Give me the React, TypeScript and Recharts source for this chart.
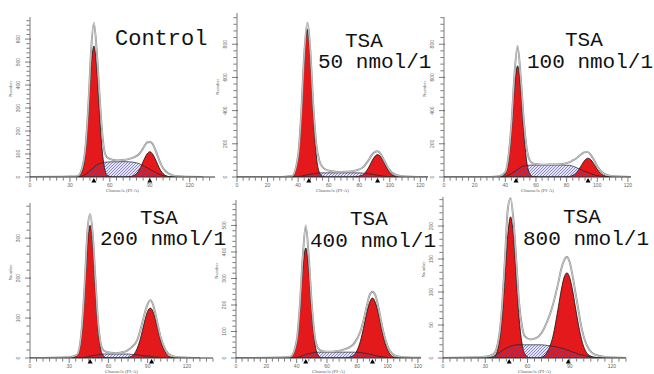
import React from 'react';
import { ComposedChart, Area, Line, XAxis, YAxis, ReferenceDot } from 'recharts';

// channel grid shared by all six histograms
const CH = [0, 30, 36, 40, 42, 44, 46, 48, 50, 52, 54, 56, 58, 62, 66, 70, 74, 78, 82, 84, 86, 88, 90, 92, 94, 96, 98, 100, 104, 108, 114, 130];

// Control
const ctrlRaw = [0, 2, 5, 60, 150, 330, 560, 670, 560, 380, 210, 110, 85, 75, 72, 74, 78, 85, 100, 115, 135, 150, 152, 145, 120, 90, 60, 38, 15, 6, 2, 0];
const ctrlG1 = [0, 0, 2, 40, 130, 300, 485, 570, 485, 300, 130, 40, 8, 0, 0, 0, 0, 0, 0, 0, 0, 0, 0, 0, 0, 0, 0, 0, 0, 0, 0, 0];
const ctrlG2 = [0, 0, 0, 0, 0, 0, 0, 0, 0, 0, 0, 0, 0, 0, 0, 0, 1, 6, 30, 54, 80, 101, 110, 101, 80, 54, 30, 15, 2, 0, 0, 0];
const ctrlS = [0, 0, 0, 5, 12, 22, 32, 42, 52, 58, 62, 64, 65, 66, 66, 67, 66, 64, 58, 52, 46, 40, 33, 27, 21, 15, 10, 6, 2, 0, 0, 0];
const ctrlMarks = [48, 90];

// TSA 50 nmol/l
const t50Raw = [0, 1, 6, 130, 380, 740, 930, 760, 420, 190, 95, 60, 45, 35, 30, 32, 33, 40, 55, 75, 100, 130, 150, 155, 140, 105, 70, 40, 12, 5, 2, 0];
const t50G1 = [0, 0, 4, 120, 365, 712, 890, 712, 365, 120, 26, 4, 0, 0, 0, 0, 0, 0, 0, 0, 0, 0, 0, 0, 0, 0, 0, 0, 0, 0, 0, 0];
const t50G2 = [0, 0, 0, 0, 0, 0, 0, 0, 0, 0, 0, 0, 0, 0, 0, 0, 0, 2, 11, 28, 55, 91, 122, 135, 122, 91, 55, 28, 4, 0, 0, 0];
const t50S = [0, 0, 0, 2, 5, 9, 13, 17, 20, 22, 24, 25, 25, 25, 25, 25, 25, 25, 24, 22, 20, 17, 14, 11, 8, 5, 3, 1, 0, 0, 0, 0];
const t50Marks = [47, 92];

// TSA 100 nmol/l
const t100Raw = [0, 1, 5, 30, 120, 320, 620, 790, 610, 350, 170, 100, 82, 76, 74, 76, 75, 80, 90, 100, 110, 125, 140, 150, 150, 130, 100, 65, 22, 8, 3, 0];
const t100G1 = [0, 0, 0, 19, 90, 275, 536, 670, 536, 275, 90, 19, 3, 0, 0, 0, 0, 0, 0, 0, 0, 0, 0, 0, 0, 0, 0, 0, 0, 0, 0, 0];
const t100G2 = [0, 0, 0, 0, 0, 0, 0, 0, 0, 0, 0, 0, 0, 0, 0, 0, 0, 0, 3, 10, 23, 46, 76, 102, 113, 102, 76, 46, 10, 1, 0, 0];
const t100S = [0, 0, 0, 3, 10, 20, 32, 45, 58, 66, 70, 71, 72, 72, 72, 72, 72, 72, 70, 65, 58, 50, 42, 34, 26, 19, 13, 8, 2, 0, 0, 0];
const t100Marks = [47, 94];

// TSA 200 nmol/l
const t200Raw = [0, 2, 8, 90, 195, 320, 360, 310, 200, 95, 38, 20, 16, 13, 12, 14, 18, 28, 45, 65, 90, 115, 135, 145, 135, 110, 80, 52, 18, 6, 2, 0];
const t200G1 = [0, 0, 6, 76, 173, 282, 332, 282, 173, 76, 24, 6, 1, 0, 0, 0, 0, 0, 0, 0, 0, 0, 0, 0, 0, 0, 0, 0, 0, 0, 0, 0];
const t200G2 = [0, 0, 0, 0, 0, 0, 0, 0, 0, 0, 0, 0, 0, 0, 0, 0, 1, 5, 24, 43, 69, 96, 117, 125, 117, 96, 69, 43, 12, 2, 0, 0];
const t200S = [0, 0, 0, 1, 2, 3, 5, 6, 7, 8, 9, 10, 10, 10, 10, 10, 10, 9, 8, 7, 6, 5, 5, 4, 3, 2, 2, 1, 0, 0, 0, 0];
const t200Marks = [46, 93];

// TSA 400 nmol/l
const t400Raw = [0, 2, 5, 65, 190, 380, 500, 380, 200, 80, 38, 28, 25, 24, 26, 30, 38, 55, 100, 140, 190, 235, 250, 235, 190, 130, 80, 45, 12, 5, 2, 0];
const t400G1 = [0, 0, 2, 56, 170, 332, 415, 332, 170, 56, 12, 2, 0, 0, 0, 0, 0, 0, 0, 0, 0, 0, 0, 0, 0, 0, 0, 0, 0, 0, 0, 0];
const t400G2 = [0, 0, 0, 0, 0, 0, 0, 0, 0, 0, 0, 0, 0, 0, 0, 0, 2, 13, 63, 111, 165, 208, 226, 208, 165, 111, 63, 31, 4, 0, 0, 0];
const t400S = [0, 0, 0, 2, 5, 9, 13, 16, 19, 21, 22, 22, 22, 22, 22, 22, 22, 22, 21, 19, 17, 14, 12, 9, 7, 5, 3, 2, 0, 0, 0, 0];
const t400Marks = [46, 90];

// TSA 800 nmol/l
const t800Raw = [0, 2, 6, 35, 80, 150, 225, 242, 210, 150, 85, 50, 33, 28, 30, 38, 55, 80, 115, 135, 148, 153, 145, 125, 100, 75, 50, 32, 12, 5, 2, 0];
const t800G1 = [0, 0, 1, 24, 62, 123, 186, 214, 186, 123, 62, 24, 7, 0, 0, 0, 0, 0, 0, 0, 0, 0, 0, 0, 0, 0, 0, 0, 0, 0, 0, 0];
const t800G2 = [0, 0, 0, 0, 0, 0, 0, 0, 0, 0, 0, 0, 0, 0, 0, 1, 9, 32, 78, 103, 122, 129, 122, 103, 78, 53, 32, 17, 4, 1, 0, 0];
const t800S = [0, 0, 3, 8, 11, 14, 16, 18, 19, 20, 20, 20, 20, 20, 20, 20, 19, 18, 16, 15, 14, 12, 11, 9, 8, 6, 5, 4, 2, 1, 0, 0];
const t800Marks = [47, 89];

// axis labels
const X30 = [0, 30, 60, 90, 120];
const X20 = [0, 20, 40, 60, 80, 100, 120];

const RED = '#e3191c';
const YW = 24;
const XH = 20;
const TOPM = 3;

const steps = (max: number, step: number) => {
  const out: number[] = [];
  for (let v = 0; v <= max; v += step) out.push(v);
  return out;
};

const panels = [
  { id: 'ctrl', raw: ctrlRaw, g1: ctrlG1, g2: ctrlG2, s: ctrlS, marks: ctrlMarks, xMajor: X30, xStep: 5, yMajor: [0, 100, 200, 300, 400, 500, 600], yStep: 20, left: 30, top: 17, plotW: 185, plotH: 160, xMax: 139, yMax: 696 },
  { id: 't50', raw: t50Raw, g1: t50G1, g2: t50G2, s: t50S, marks: t50Marks, xMajor: X20, xStep: 4, yMajor: [0, 200, 400, 600, 800], yStep: 40, left: 237, top: 13, plotW: 191, plotH: 164, xMax: 125, yMax: 988 },
  { id: 't100', raw: t100Raw, g1: t100G1, g2: t100G2, s: t100S, marks: t100Marks, xMajor: X20, xStep: 4, yMajor: [0, 200, 400, 600, 800], yStep: 40, left: 444, top: 17, plotW: 187, plotH: 160, xMax: 122, yMax: 964 },
  { id: 't200', raw: t200Raw, g1: t200G1, g2: t200G2, s: t200S, marks: t200Marks, xMajor: X30, xStep: 5, yMajor: [0, 100, 200, 300], yStep: 20, left: 30, top: 203, plotW: 183, plotH: 155, xMax: 140, yMax: 388 },
  { id: 't400', raw: t400Raw, g1: t400G1, g2: t400G2, s: t400S, marks: t400Marks, xMajor: X20, xStep: 4, yMajor: [0, 100, 200, 300, 400, 500], yStep: 20, left: 236, top: 200, plotW: 185, plotH: 158, xMax: 122, yMax: 596 },
  { id: 't800', raw: t800Raw, g1: t800G1, g2: t800G2, s: t800S, marks: t800Marks, xMajor: X30, xStep: 5, yMajor: [0, 50, 100, 150, 200], yStep: 10, left: 443, top: 197, plotW: 183, plotH: 161, xMax: 130, yMax: 244 },
];

const titles = [
  { lines: ['Control'], x: [115], y: [45], size: 22 },
  { lines: ['TSA', '50 nmol/1'], x: [345, 318], y: [47, 68], size: 21 },
  { lines: ['TSA', '100 nmol/1'], x: [565, 527], y: [46, 68], size: 21 },
  { lines: ['TSA', '200 nmol/1'], x: [140, 100], y: [224, 245], size: 21 },
  { lines: ['TSA', '400 nmol/1'], x: [350, 310], y: [225, 247], size: 21 },
  { lines: ['TSA', '800 nmol/1'], x: [563, 523], y: [223, 245], size: 21 },
];

function YTick(props: any) {
  const { x, y, payload, major } = props;
  const isMajor = major.includes(payload.value);
  const len = isMajor ? 3 : 1.6;
  return (
    <g>
      <line x1={x - len} x2={x + len} y1={y} y2={y} stroke="#444" strokeWidth={0.7} />
      {isMajor && (
        <text x={x - 8} y={y} transform={`rotate(-90 ${x - 8} ${y})`} textAnchor="middle" fontSize={5} fill="#666" fontFamily="Liberation Sans">
          {payload.value}
        </text>
      )}
    </g>
  );
}

function XTick(props: any) {
  const { x, y, payload, major } = props;
  const isMajor = major.includes(payload.value);
  return (
    <g>
      <line x1={x} x2={x} y1={y - 1.5} y2={y + (isMajor ? 3 : 1.6)} stroke="#444" strokeWidth={0.7} />
      {isMajor && (
        <text x={x} y={y + 7.5} textAnchor="middle" fontSize={5} fill="#666" fontFamily="Liberation Sans">
          {payload.value}
        </text>
      )}
    </g>
  );
}

function Panel({ p }: { p: any }) {
  const data = CH.map((c, i) => ({ ch: c, raw: p.raw[i], g1: p.g1[i], g2: p.g2[i], s: p.s[i] }));
  const W = YW + p.plotW + 6;
  const H = TOPM + p.plotH + XH;
  return (
    <div style={{ position: 'absolute', left: p.left - YW, top: p.top - TOPM }}>
      <ComposedChart width={W} height={H} data={data} margin={{ top: TOPM, right: 6, left: 0, bottom: 0 }}>
        <XAxis
          dataKey="ch"
          type="number"
          domain={[0, p.xMax]}
          ticks={steps(p.xMax, p.xStep)}
          interval={0}
          tickSize={0}
          tickLine={false}
          tick={(t: any) => <XTick {...t} major={p.xMajor} />}
          axisLine={{ stroke: '#333', strokeWidth: 1 }}
          height={XH}
          allowDataOverflow
          label={{ value: 'Channels (PI-A)', position: 'insideBottom', offset: 5, fontSize: 5, fill: '#666' }}
        />
        <YAxis
          type="number"
          domain={[0, p.yMax]}
          ticks={steps(p.yMax, p.yStep)}
          interval={0}
          tickSize={0}
          tickLine={false}
          tick={(t: any) => <YTick {...t} major={p.yMajor} />}
          axisLine={{ stroke: '#555', strokeWidth: 0.8 }}
          width={YW}
          allowDataOverflow
          label={{ value: 'Number', angle: -90, position: 'insideLeft', offset: 4, fontSize: 5, fill: '#666' }}
        />
        <Area type="monotone" dataKey="s" fill="#e4e4f6" fillOpacity={1} stroke="none" dot={false} activeDot={false} isAnimationActive={false} />
        <Area type="monotone" dataKey="g1" fill={RED} fillOpacity={1} stroke="#111" strokeWidth={0.8} dot={false} activeDot={false} isAnimationActive={false} />
        <Area type="monotone" dataKey="g2" fill={RED} fillOpacity={1} stroke="#111" strokeWidth={0.8} dot={false} activeDot={false} isAnimationActive={false} />
        <Area type="monotone" dataKey="s" fill={`url(#hatch-${p.id})`} fillOpacity={1} stroke="#222" strokeWidth={0.7} dot={false} activeDot={false} isAnimationActive={false} />
        <Line type="monotone" dataKey="raw" stroke="#8c8c8c" strokeWidth={1.9} dot={false} activeDot={false} isAnimationActive={false} />
        <Line type="monotone" dataKey="raw" stroke="#f2f2f2" strokeWidth={0.6} dot={false} activeDot={false} isAnimationActive={false} />
        {p.marks.map((m: number) => (
          <ReferenceDot
            key={m}
            x={m}
            y={0}
            ifOverflow="visible"
            shape={(d: any) => (
              <path d={`M${d.cx - 2.5},${d.cy + 5.5} L${d.cx + 2.5},${d.cy + 5.5} L${d.cx},${d.cy + 1} Z`} fill="#000" />
            )}
          />
        ))}
      </ComposedChart>
    </div>
  );
}

export default function App() {
  return (
    <div style={{ position: 'absolute', left: 0, top: 0, width: 654, height: 374, background: '#fff', overflow: 'hidden' }}>
      <svg width={0} height={0} style={{ position: 'absolute' }}>
        <defs>
          {panels.map((p) => (
            <pattern key={p.id} id={`hatch-${p.id}`} patternUnits="userSpaceOnUse" width={3} height={3}>
              <path d="M-1,1 l2,-2 M0,3 l3,-3 M2,4 l2,-2" stroke="#4b4bb0" strokeWidth={0.6} />
            </pattern>
          ))}
        </defs>
      </svg>
      {panels.map((p) => (
        <Panel key={p.id} p={p} />
      ))}
      <svg width={654} height={374} style={{ position: 'absolute', left: 0, top: 0, pointerEvents: 'none' }}>
        {titles.map((t, i) =>
          t.lines.map((line, j) => (
            <text key={`${i}-${j}`} x={t.x[j]} y={t.y[j]} fontSize={t.size} fontFamily="Liberation Mono" fill="#111">
              {line}
            </text>
          ))
        )}
      </svg>
    </div>
  );
}
